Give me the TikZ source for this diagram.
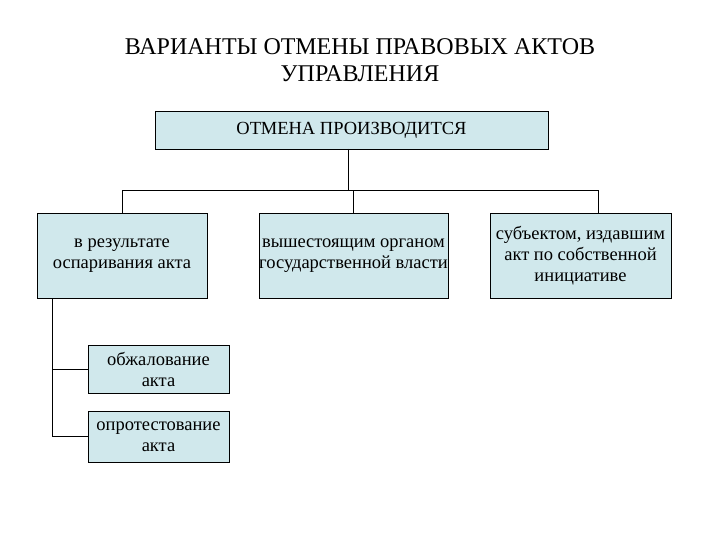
\documentclass[tikz,border=0pt]{standalone}
\usepackage{fontspec}
\setmainfont{Liberation Serif}
\definecolor{boxfill}{RGB}{208,232,236}
\begin{document}
\begin{tikzpicture}[x=1pt,y=-1pt,
  box/.style={draw=black,fill=boxfill,line width=0.8pt,align=center,font=\fontsize{18.5}{21}\selectfont,inner sep=0pt},
  conn/.style={draw=black,line width=0.8pt}]
\useasboundingbox (0,0) rectangle (720,540);
\node[font=\fontsize{24}{27}\selectfont,align=center] (title) at (360,60) {ВАРИАНТЫ ОТМЕНЫ ПРАВОВЫХ АКТОВ\\УПРАВЛЕНИЯ};
\node[box,minimum width=393pt,minimum height=38pt] (top) at (351.5,130) {ОТМЕНА ПРОИЗВОДИТСЯ};
\node[box,minimum width=170pt,minimum height=85pt] (l) at (122,255.5) {в результате\\оспаривания акта};
\node[box,minimum width=189pt,minimum height=85pt] (m) at (353.5,255.5) {вышестоящим органом\\государственной власти};
\node[box,minimum width=181pt,minimum height=85pt] (r) at (580.5,255.5) {субъектом, издавшим\\акт по собственной\\инициативе};
\node[box,minimum width=141pt,minimum height=48pt] (s1) at (158.5,369) {обжалование\\акта};
\node[box,minimum width=141pt,minimum height=51pt] (s2) at (158.5,436.5) {опротестование\\акта};
\coordinate (h) at (348,190);
\draw[conn] (348,149) -- (h);
\draw[conn] (l.north) -- (122,190) -- (598,190) -- (598,213);
\draw[conn] (m.north) -- (353.5,190);
\draw[conn] (52,298) -- (52,436.5) -- (s2.west);
\draw[conn] (52,369) -- (s1.west);
\end{tikzpicture}
\end{document}
